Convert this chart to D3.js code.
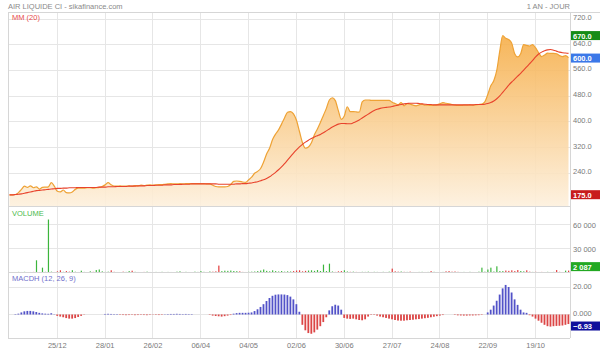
<!DOCTYPE html>
<html><head><meta charset="utf-8">
<script src="https://cdn.jsdelivr.net/npm/d3@7"></script>
<style>body{margin:0;background:#fff}svg{display:block;font-family:"Liberation Sans",Arial,sans-serif}</style>
</head><body><svg id="c" width="600" height="351"></svg>
<script>
const title = "AIR LIQUIDE CI - sikafinance.com";
const period = "1 AN - JOUR";
const tickLabels = ["25/12","28/01","26/02","06/04","04/05","02/06","30/06","27/07","24/08","22/09","19/10"];
const tickIndex = [16,32,48,64,80,96,112,128,144,160,176];
const priceTicks = [240,320,400,480,560,640,720];
const volTicks = [30000,60000];
const volTickLabels = ["30 000","60 000"];
const macdTicks = [0,20];
const macdTickLabels = ["0.000","20.00"];
const priceHigh = 670.0, priceLast = 600.0, priceLow = 175.0;
const volLast = 2087, volLastLabel = "2 087";
const macdLast = -6.93;

const price = [173,173,174,180,190,200,196,201,195,198,191,196,197,198,211,200,184,182,188,180,
179,182,190,194,194,194,195,195,194,195,196,199,204,211,204,200,200,201,200,200,
201,200,202,201,203,202,203,204,203,204,205,205,206,207,208,207,207,208,207,208,
208,208,208,208,208,208,207,207,203,199,198,198,198,199,205,215,216,215,213,212,
220,228,240,246,255,275,300,318,345,362,375,393,412,430,432,425,405,370,335,318,
322,335,360,378,398,420,442,468,475,466,435,408,418,447,432,432,431,430,462,468,
468,467,467,467,467,467,467,467,461,457,453,460,450,457,455,452,450,453,455,452,
452,451,452,453,456,460,458,456,454,452,451,451,452,452,453,452,453,454,455,462,
485,512,528,560,620,668,660,656,645,612,602,612,640,638,636,640,630,615,603,608,
614,613,613,612,606,603,606,600];

const mm20 = [173,173,174,175,176,178,180,182,184,186,187,188,189,190,191,192,193,193,194,194,
195,195,195,196,196,196,196,196,196,196,197,197,197,198,198,198,199,199,199,199,
200,200,200,201,201,201,202,202,202,203,203,203,204,204,204,205,205,205,206,206,
206,207,207,207,207,207,207,207,207,207,206,206,206,206,206,206,207,207,208,208,
209,210,212,214,217,220,224,229,236,243,251,260,270,281,292,303,313,322,330,337,
343,348,353,357,361,366,372,378,384,389,393,395,395,394,394,397,401,406,412,418,
424,430,435,439,442,444,445,446,448,450,452,454,456,457,458,458,458,457,456,455,
454,454,453,453,453,453,453,453,453,453,453,453,453,453,453,453,454,454,454,455,
457,460,465,472,481,492,503,514,524,533,542,551,561,571,581,591,602,611,617,621,
624,625,623,620,617,615,614,613];

const volume = [0,300,200,500,400,600,300,400,500,15000,400,5800,600,66000,800,400,1200,2500,600,1500,
800,2600,700,400,2000,500,300,1200,600,2800,3500,1200,500,800,2500,600,400,300,800,500,
1500,2000,600,400,300,500,800,400,300,500,400,600,300,500,400,300,800,1200,400,600,
400,300,800,500,1500,600,400,1000,800,1200,8400,1500,2000,1800,2200,1600,1400,1200,500,400,
600,800,1000,1500,2200,3500,1800,1200,2500,1500,1000,1600,800,1200,1000,1500,2200,2500,1200,1800,
2200,2500,1800,2800,1600,9600,1500,10800,1000,500,1200,1500,2500,1000,600,800,500,400,600,500,
800,400,600,500,300,600,400,800,4600,1200,800,1000,600,500,800,400,300,500,600,400,
500,1500,600,400,300,500,1200,1500,800,1000,600,400,500,300,600,400,300,800,5800,800,
3500,5800,1000,7500,1500,1500,2200,1800,2500,1500,2800,1600,1200,2500,800,500,600,400,500,300,
600,400,500,2800,600,400,2087,2087];

const macdh = [0,0,0.3,0.6,1.5,2.3,2.6,2.6,2.3,1.8,1.2,0.8,0.6,0.5,0.9,0.2,-1.0,-1.5,-2.0,-2.6,
-3.0,-3.0,-2.6,-1.8,-1.0,-0.2,0,0,0,0,0,0,0.4,0.5,0.4,0.3,0.3,-0.3,-0.4,-0.5,
-0.4,-0.3,-0.5,-0.4,-0.3,-0.4,-0.5,-0.3,-0.2,-0.3,-0.4,-0.3,0.2,0.3,0.4,0.4,0.5,0.4,0.3,0.4,
0.3,0.3,0,0,0,0,0,-0.3,-0.8,-1.1,-1.3,-1.5,-1.2,-0.8,-0.4,0.6,1.0,1.2,1.2,1.2,
1.3,1.5,2.5,3.8,5.5,7.5,9.8,12,13.6,14.4,14.6,14.6,14.5,14.1,13,11,7.5,2,-7.5,-11.5,
-13.5,-14,-13,-11,-8.5,-5.5,-2,3,6,7.1,6.5,3.5,-2.5,-3,-3.2,-3,-3.5,-4,-4.2,-3.5,
-1.5,-0.3,-0.3,-0.8,-1.5,-2,-2.5,-3,-3.5,-4,-4.4,-4.5,-4.5,-4.2,-4,-3.8,-3.5,-3.3,-3,-2.7,
-2.4,-2,-1.6,-1.2,-0.8,-0.4,0,0,0,-0.3,-0.6,-0.7,-0.8,-0.8,-0.7,-0.7,-0.6,-0.5,-0.3,0,
1.5,3.5,6.5,10,14.5,19,21.5,20,16,11,7,3.5,1.5,1.2,-0.5,-1.5,-3,-4.5,-6,-7.5,
-8.5,-8.8,-8.5,-8.3,-8.2,-8,-7.5,-6.93];

const N = price.length;
const svg = d3.select("#c");
const L = 8, R = 570, RE = 600;
const P = {top:12.5, bot:206}, V = {top:206, bot:272.5}, M = {top:272.5, bot:338};
const grid = "#e6e6e6", border = "#d6d6d6", txt = "#7a7a7a", fs = "7.5px";

const x = d3.scaleBand().domain(d3.range(N)).range([L, R]).paddingInner(0);
const cx = i => x(i) + x.bandwidth()/2;
const yP = d3.scaleLinear().domain([240,720]).range([173.3,19]);
const yV = d3.scaleLinear().domain([0,60000]).range([272.3,224.3]);
const yM = d3.scaleLinear().domain([0,20]).range([314.5,287]);

const defs = svg.append("defs");
const g = defs.append("linearGradient").attr("id","ga").attr("gradientUnits","userSpaceOnUse")
  .attr("x1",0).attr("y1",P.top).attr("x2",0).attr("y2",P.bot);
g.append("stop").attr("offset",0).attr("stop-color","#f5a534");
g.append("stop").attr("offset",1).attr("stop-color","#fdf0dd");
defs.append("clipPath").attr("id","cp").append("rect").attr("x",L).attr("y",P.top).attr("width",R-L).attr("height",P.bot-P.top);

// title
svg.append("text").attr("x",8).attr("y",8.5).attr("fill","#8a8a8a").style("font-size",fs).text(title);
svg.append("text").attr("x",R).attr("y",8.5).attr("text-anchor","end").attr("fill","#8a8a8a").style("font-size",fs).text(period);

// grids
const gg = svg.append("g").attr("stroke",grid).attr("stroke-width",1).attr("shape-rendering","crispEdges");
tickIndex.forEach(i => gg.append("line").attr("x1",cx(i)).attr("x2",cx(i)).attr("y1",P.top).attr("y2",M.bot));
priceTicks.forEach(v => gg.append("line").attr("x1",L).attr("x2",R).attr("y1",yP(v)).attr("y2",yP(v)));
volTicks.forEach(v => gg.append("line").attr("x1",L).attr("x2",R).attr("y1",yV(v)).attr("y2",yV(v)));
macdTicks.forEach(v => gg.append("line").attr("x1",L).attr("x2",R).attr("y1",yM(v)).attr("y2",yM(v)));

// price area & lines
const pg = svg.append("g").attr("clip-path","url(#cp)");
pg.append("path").datum(d3.range(N))
  .attr("d", d3.area().x(cx).y0(P.bot).y1(i => yP(price[i])).curve(d3.curveMonotoneX))
  .attr("fill","url(#ga)").attr("opacity",0.9);
pg.append("path").datum(d3.range(N))
  .attr("d", d3.line().x(cx).y(i => yP(price[i])).curve(d3.curveMonotoneX))
  .attr("fill","none").attr("stroke","#eea235").attr("stroke-width",1.2);
pg.append("path").datum(d3.range(N))
  .attr("d", d3.line().x(cx).y(i => yP(mm20[i])).curve(d3.curveMonotoneX))
  .attr("fill","none").attr("stroke","#e8432c").attr("stroke-width",1.1);

// volume bars
svg.append("g").selectAll("rect").data(d3.range(N)).join("rect")
  .attr("x", i => cx(i)-0.5).attr("width",1.2)
  .attr("y", i => yV(volume[i])).attr("height", i => Math.max(0, yV(0)-yV(volume[i])))
  .attr("fill", i => (i===0 || price[i] >= price[i-1]) ? "#3cb53c" : "#e23a3a");

// macd bars
svg.append("g").selectAll("rect").data(d3.range(N)).join("rect")
  .attr("x", i => cx(i)-1).attr("width",1.8)
  .attr("y", i => Math.min(yM(0), yM(macdh[i]))).attr("height", i => Math.abs(yM(macdh[i])-yM(0)))
  .attr("fill", i => macdh[i] >= 0 ? "#5252c8" : "#dc4646");

// borders
const bg = svg.append("g").attr("stroke",border).attr("shape-rendering","crispEdges");
bg.append("line").attr("x1",L).attr("x2",RE).attr("y1",P.top).attr("y2",P.top);
bg.append("line").attr("x1",L).attr("x2",L).attr("y1",P.top).attr("y2",M.bot);
bg.append("line").attr("x1",L).attr("x2",R).attr("y1",P.bot).attr("y2",P.bot);
bg.append("line").attr("x1",L).attr("x2",R).attr("y1",V.bot).attr("y2",V.bot);
bg.append("line").attr("x1",L).attr("x2",R).attr("y1",M.bot).attr("y2",M.bot);
bg.append("line").attr("x1",R).attr("x2",R).attr("y1",P.top).attr("y2",M.bot);

// panel labels
svg.append("text").attr("x",12).attr("y",20).attr("fill","#e84a4a").style("font-size",fs).text("MM (20)");
svg.append("text").attr("x",12).attr("y",215.5).attr("fill","#4cba4c").style("font-size",fs).text("VOLUME");
svg.append("text").attr("x",12).attr("y",281).attr("fill","#7070cc").style("font-size",fs).text("MACDH (12, 26, 9)");

// right axes
const ra = svg.append("g").style("font-size",fs).attr("fill",txt);
priceTicks.forEach(v => ra.append("text").attr("x",573).attr("y",yP(v)+1).text(d3.format(".1f")(v)));
volTicks.forEach((v,k) => ra.append("text").attr("x",573).attr("y",yV(v)+3.5).text(volTickLabels[k]));
macdTicks.forEach((v,k) => ra.append("text").attr("x",573).attr("y",yM(v)+1.5).text(macdTickLabels[k]));

function box(y, label, color){
  svg.append("rect").attr("x",571).attr("y",y-4).attr("width",29).attr("height",9).attr("fill",color);
  svg.append("text").attr("x",573).attr("y",y+3.5).attr("fill","#fff").style("font-size",fs).style("font-weight","bold").text(label);
}
box(yP(priceHigh), d3.format(".1f")(priceHigh), "#168c16");
box(yP(priceLast), d3.format(".1f")(priceLast), "#3b78e8");
box(yP(priceLow), d3.format(".1f")(priceLow), "#c81c1c");
box(yV(volLast)-4.5, volLastLabel, "#22a822");
box(yM(macdLast)+1.5, d3.format(".2f")(macdLast), "#10109c");

// x labels
const xa = svg.append("g").style("font-size",fs).attr("fill",txt).attr("text-anchor","middle");
tickIndex.forEach((i,k) => xa.append("text").attr("x",cx(i)).attr("y",347.5).text(tickLabels[k]));
</script></body></html>
